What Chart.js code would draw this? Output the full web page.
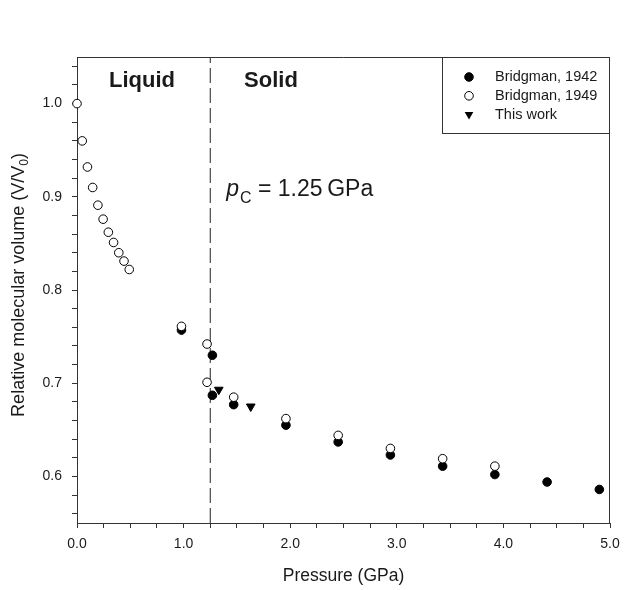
<!DOCTYPE html>
<html>
<head>
<meta charset="utf-8">
<script src="https://cdn.jsdelivr.net/npm/chart.js@4.4.1/dist/chart.umd.min.js"></script>
<style>
  html, body { margin: 0; padding: 0; background: #fff; }
  #wrap { width: 640px; height: 590px; }
</style>
</head>
<body>
<div id="wrap"><canvas id="volChart" width="640" height="590"></canvas></div>
<script>
// Bridgman, 1942 (filled circles)
const p1942 = [0.98, 1.27, 1.27, 1.47, 1.96, 2.45, 2.94, 3.43, 3.92, 4.41, 4.90];
const v1942 = [0.757, 0.730, 0.687, 0.677, 0.655, 0.637, 0.623, 0.611, 0.602, 0.594, 0.586];

// Bridgman, 1949 (open circles)
const p1949 = [0, 0.049, 0.098, 0.147, 0.196, 0.245, 0.294, 0.343, 0.392, 0.441, 0.490,
               0.98, 1.22, 1.22, 1.47, 1.96, 2.45, 2.94, 3.43, 3.92];
const v1949 = [1.000, 0.960, 0.932, 0.910, 0.891, 0.876, 0.862, 0.851, 0.840, 0.831, 0.822,
               0.761, 0.742, 0.701, 0.685, 0.662, 0.644, 0.630, 0.619, 0.611];

// This work (down triangles)
const pThis = [1.33, 1.63];
const vThis = [0.693, 0.675];

// transition pressure
const pC = 1.25;

// axes
const xMin = 0, xMax = 5, xMinor = 0.25;
const yMin = 0.55, yMax = 1.05, yMinor = 0.02;
const xLabels = [0, 1, 2, 3, 4, 5];
const yLabels = [0.6, 0.7, 0.8, 0.9, 1.0];

const FONT = '"Liberation Sans", Arial, sans-serif';
const INK = '#1a1a1a';

const toPts = (xs, ys) => xs.map((x, i) => ({ x: x, y: ys[i] }));
const isLabel = (list, v) => list.some(l => Math.abs(l - v) < 1e-6);

function minorTicks(from, to, step) {
  const out = [];
  const n = Math.round((to - from) / step);
  for (let i = 0; i <= n; i++) out.push({ value: Math.round((from + i * step) * 1000) / 1000 });
  return out;
}

// frame, y title with subscript, region labels, pC note, legend
const decorPlugin = {
  id: 'decor',
  afterDraw(chart) {
    const ctx = chart.ctx;
    const a = chart.chartArea;
    const xs = chart.scales.x, ys = chart.scales.y;
    ctx.save();

    // top + right frame
    ctx.strokeStyle = '#333';
    ctx.lineWidth = 1;
    ctx.beginPath();
    ctx.moveTo(a.left, a.top + 0.5);
    ctx.lineTo(a.right - 0.5, a.top + 0.5);
    ctx.lineTo(a.right - 0.5, a.bottom);
    ctx.stroke();

    // y axis title
    ctx.fillStyle = INK;
    ctx.save();
    ctx.translate(24, (a.top + a.bottom) / 2 - 5);
    ctx.rotate(-Math.PI / 2);
    ctx.textBaseline = 'alphabetic';
    const t1 = 'Relative molecular volume (V/V', t2 = '0', t3 = ')';
    ctx.font = '18px ' + FONT;
    const w1 = ctx.measureText(t1).width, w3 = ctx.measureText(t3).width;
    ctx.font = '12px ' + FONT;
    const w2 = ctx.measureText(t2).width;
    const x0 = -(w1 + w2 + w3) / 2;
    ctx.font = '18px ' + FONT;
    ctx.fillText(t1, x0, 0);
    ctx.font = '12px ' + FONT;
    ctx.fillText(t2, x0 + w1, 4);
    ctx.font = '18px ' + FONT;
    ctx.fillText(t3, x0 + w1 + w2, 0);
    ctx.restore();

    // region labels
    ctx.font = 'bold 22px ' + FONT;
    ctx.textAlign = 'center';
    ctx.textBaseline = 'middle';
    ctx.fillText('Liquid', xs.getPixelForValue(0.61), ys.getPixelForValue(1.024));
    ctx.fillText('Solid', xs.getPixelForValue(1.82), ys.getPixelForValue(1.024));

    // pC annotation
    let px = xs.getPixelForValue(1.40);
    const py = ys.getPixelForValue(0.9006);
    ctx.textAlign = 'left';
    ctx.textBaseline = 'alphabetic';
    ctx.font = 'italic 23px ' + FONT;
    ctx.fillText('p', px, py);
    px += ctx.measureText('p').width + 1;
    ctx.font = '16px ' + FONT;
    ctx.fillText('C', px, py + 7);
    px += ctx.measureText('C').width;
    ctx.font = '23px ' + FONT;
    ctx.fillText(' = 1.25\u2009GPa', px, py);

    // legend
    const lw = 168, lh = 76;
    const lx = a.right - lw, ly = a.top;
    ctx.strokeStyle = '#333';
    ctx.strokeRect(lx + 0.5, ly + 0.5, lw - 1, lh);
    const rows = [
      { label: 'Bridgman, 1942', kind: 'filled' },
      { label: 'Bridgman, 1949', kind: 'open' },
      { label: 'This work', kind: 'tri' }
    ];
    ctx.font = '14.5px ' + FONT;
    ctx.textBaseline = 'middle';
    rows.forEach((r, i) => {
      const cy = ly + 20 + i * 18.8;
      const cx = lx + 27;
      ctx.beginPath();
      if (r.kind === 'tri') {
        const rr = 5;
        ctx.moveTo(cx, cy + rr);
        ctx.lineTo(cx - rr * 0.866, cy - rr / 2);
        ctx.lineTo(cx + rr * 0.866, cy - rr / 2);
        ctx.closePath();
        ctx.fillStyle = '#000';
        ctx.fill();
      } else {
        ctx.arc(cx, cy, 4.3, 0, Math.PI * 2);
        ctx.fillStyle = r.kind === 'filled' ? '#000' : '#fff';
        ctx.fill();
        ctx.strokeStyle = '#000';
        ctx.stroke();
      }
      ctx.fillStyle = INK;
      ctx.fillText(r.label, lx + 53, cy);
    });

    ctx.restore();
  }
};

new Chart(document.getElementById('volChart'), {
  type: 'scatter',
  data: {
    datasets: [
      {
        label: 'Bridgman, 1949',
        data: toPts(p1949, v1949),
        pointStyle: 'circle',
        pointRadius: 4.3,
        pointBackgroundColor: '#fff',
        pointBorderColor: '#000',
        pointBorderWidth: 1,
        clip: false,
        order: 0
      },
      {
        label: 'Bridgman, 1942',
        data: toPts(p1942, v1942),
        pointStyle: 'circle',
        pointRadius: 4.3,
        pointBackgroundColor: '#000',
        pointBorderColor: '#000',
        pointBorderWidth: 1,
        clip: false,
        order: 1
      },
      {
        label: 'This work',
        data: toPts(pThis, vThis),
        pointStyle: 'triangle',
        pointRotation: 180,
        pointRadius: 5,
        pointBackgroundColor: '#000',
        pointBorderColor: '#000',
        pointBorderWidth: 1,
        order: 2
      },
      {
        label: 'pc',
        data: [{ x: pC, y: yMin }, { x: pC, y: yMax }],
        showLine: true,
        borderColor: '#222',
        borderWidth: 1,
        borderDash: [15, 5],
        pointRadius: 0,
        order: 3
      }
    ]
  },
  options: {
    responsive: false,
    animation: false,
    layout: { padding: { left: 0, right: 30, top: 57, bottom: 0 } },
    plugins: {
      legend: { display: false },
      tooltip: { enabled: false }
    },
    scales: {
      x: {
        type: 'linear',
        position: 'bottom',
        min: xMin,
        max: xMax,
        afterBuildTicks: s => { s.ticks = minorTicks(xMin, xMax, xMinor); },
        afterFit: s => { s.height = 67; },
        border: { color: '#333', width: 1 },
        grid: { drawOnChartArea: false, drawTicks: true, tickLength: 5, color: '#333' },
        ticks: {
          autoSkip: false,
          maxRotation: 0,
          padding: 8,
          color: INK,
          font: { family: FONT, size: 14 },
          callback: v => isLabel(xLabels, v) ? v.toFixed(1) : ''
        },
        title: {
          display: true,
          text: 'Pressure (GPa)',
          color: INK,
          font: { family: FONT, size: 17.5 },
          padding: { top: 4, bottom: 3 }
        }
      },
      y: {
        type: 'linear',
        min: yMin,
        max: yMax,
        afterBuildTicks: s => { s.ticks = minorTicks(0.56, 1.04, yMinor); },
        afterFit: s => { s.width = 77; },
        border: { color: '#333', width: 1 },
        grid: { drawOnChartArea: false, drawTicks: true, tickLength: 5, color: '#333' },
        ticks: {
          autoSkip: false,
          padding: 10,
          color: INK,
          font: { family: FONT, size: 14 },
          callback: v => isLabel(yLabels, v) ? v.toFixed(1) : ''
        }
      }
    }
  },
  plugins: [decorPlugin]
});
</script>
</body>
</html>
